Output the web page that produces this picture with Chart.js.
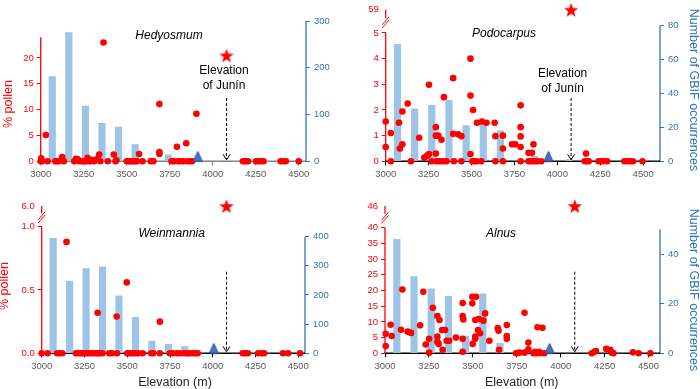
<!DOCTYPE html>
<html lang="en">
<head>
<meta charset="UTF-8">
<title>Pollen and GBIF occurrences by elevation</title>
<script src="https://cdn.jsdelivr.net/npm/chart.js@4"></script>
<style>
  body { margin: 0; background: #fff; }
  #wrap { position: relative; width: 700px; height: 389px; overflow: hidden; }
  .panel { position: absolute; }
</style>
</head>
<body>
<div id="wrap">
  <div class="panel" style="left:0;top:0"><canvas id="hedy" width="350" height="190"></canvas></div>
  <div class="panel" style="left:350px;top:0"><canvas id="podo" width="350" height="190"></canvas></div>
  <div class="panel" style="left:0;top:190px"><canvas id="wein" width="350" height="199"></canvas></div>
  <div class="panel" style="left:350px;top:190px"><canvas id="alnus" width="350" height="199"></canvas></div>
</div>

<script>
// ---- data ----
const elevTicks = [3000, 3250, 3500, 3750, 4000, 4250, 4500];
const gbifBins = ['3000', '3100', '3200', '3300', '3400', '3500', '3600', '3700',
                  '3800', '3900', '4000', '4100', '4200', '4300', '4400', '4500'];
const juninElevation = 4080;

// GBIF occurrences per 100 m bin
const hedyGbif  = [181, 275, 118, 81, 73, 36, 7, 14, 0, 0, 0, 0, 0, 0, 0, 0];
const podoGbif  = [69, 31, 33, 36, 21, 22, 18, 0, 3, 0, 1, 0, 0, 0, 0, 0];
const weinGbif  = [394, 248, 291, 297, 197, 123, 42, 31, 23, 0, 0, 0, 0, 0, 0, 0];
const alnusGbif = [46, 31, 26, 23, 7, 24, 4, 1, 0, 0, 0, 0, 0, 0, 0, 0];

// upper limit marker (triangle) and Junin pollen value (star)
const limitElev = [3913, 3948, 4006, 3937];
const juninPollen = [20.5, 59, 6.0, 46];

// % pollen in surface samples [elevation, %]
const hedyPollen = [[3000,0],[3003,0.6],[3008,0],[3030,5.1],[3040,0],[3085,0],[3095,0],[3105,0],[3125,0.8],
  [3135,0],[3195,0],[3205,0.5],[3215,0.4],[3225,0],[3240,0],[3255,0],[3265,0],[3272,0.7],[3282,0],[3292,0],
  [3300,0.3],[3312,0],[3330,0.5],[3340,1.3],[3346,0],[3365,23],[3390,0],[3425,1.3],[3435,0],[3440,0.2],
  [3500,0],[3510,0],[3520,0],[3530,0],[3540,0],[3550,0],[3560,0],[3572,1.4],[3592,0],[3640,0],[3655,0],
  [3690,11.1],[3690,1.8],[3690,1.4],[3760,0],[3775,0],[3792,2.8],[3800,0],[3815,0],[3830,0],[3846,3.5],
  [3855,0],[3868,0],[3880,0],[3905,9.2],[4175,0],[4185,0],[4195,0],[4205,0],[4252,0],[4265,0],[4280,0],
  [4295,0],[4395,0],[4410,0],[4425,0],[4500,0]];

const podoPollen = [[3000,1.55],[3000,0.56],[3030,1.1],[3030,0],[3077,1.5],[3083,0.5],[3097,0.66],[3097,1.94],
  [3128,2.25],[3147,0],[3195,0.92],[3225,0.15],[3242,0.22],[3252,2.98],[3252,0.28],[3267,0],[3292,1.33],
  [3292,1.0],[3292,0.3],[3306,1.0],[3325,0.84],[3296,0],[3310,0],[3325,0],[3340,0],[3354,0],[3339,2.5],
  [3393,3.24],[3393,1.07],[3397,0],[3422,1.05],[3441,0.98],[3441,0],[3494,4.0],[3494,2.56],[3494,0.28],
  [3509,2.0],[3505,0],[3518,0],[3530,0],[3557,0],[3532,1.5],[3561,1.55],[3587,1.5],[3635,1.5],[3639,0.98],
  [3639,0],[3683,1.0],[3683,0.5],[3683,0],[3736,0.66],[3755,0.66],[3786,2.18],[3786,1.33],[3786,0.97],
  [3786,0.56],[3786,0],[3832,0.33],[3852,0.33],[3861,0.66],[3832,0],[3845,0],[3860,0],[3872,0],[3885,0],
  [3906,0],[4167,0.3],[4160,0],[4172,0],[4183,0],[4240,0],[4255,0],[4270,0],[4290,0],[4390,0],[4405,0],
  [4425,0],[4440,0],[4496,0]];

const weinPollen = [[3145,0.88],[3327,0.32],[3438,0.29],[3497,0.56],[3691,0.25],
  [3000,0],[3035,0],[3090,0],[3105,0],[3120,0],[3200,0],[3215,0],[3228,0],[3240,0],[3252,0],[3262,0],
  [3275,0],[3290,0],[3305,0],[3318,0],[3330,0],[3342,0],[3355,0],[3395,0],[3410,0],[3440,0],[3500,0],
  [3512,0],[3525,0],[3537,0],[3550,0],[3565,0],[3590,0],[3640,0],[3652,0],[3690,0],[3748,0],[3765,0],
  [3790,0],[3805,0],[3830,0],[3845,0],[3858,0],[3870,0],[3885,0],[3898,0],[3912,0],[4175,0],[4190,0],
  [4205,0],[4265,0],[4285,0],[4300,0],[4410,0],[4440,0],[4510,0]];

const alnusPollen = [[3004,6.2],[3004,2.3],[3032,9.1],[3038,5.5],[3091,7.5],[3099,20.3],[3129,6.9],[3148,6.5],
  [3200,8.9],[3218,19.6],[3232,2.8],[3251,4.6],[3251,0.2],[3272,14.5],[3298,11.9],[3310,10.6],[3298,5.3],
  [3298,3.7],[3305,3.0],[3325,7.4],[3328,1.1],[3342,7.4],[3351,4.0],[3365,4.0],[3404,5.0],[3442,16.0],
  [3442,11.9],[3442,4.6],[3442,0.5],[3446,10.8],[3497,18.0],[3497,15.9],[3518,18.0],[3499,3.0],[3514,5.3],
  [3514,4.6],[3514,10.6],[3533,10.9],[3529,7.4],[3541,6.4],[3560,10.4],[3570,12.7],[3594,4.0],[3642,8.0],
  [3646,7.2],[3649,1.1],[3693,9.0],[3693,5.5],[3693,4.6],[3746,0],[3765,0.2],[3794,12.9],[3794,0.2],
  [3816,3.4],[3816,1.3],[3845,0],[3854,0.5],[3862,0],[3868,8.3],[3877,0.5],[3896,8.1],[3887,0],[3907,0],
  [4177,0],[4192,0.5],[4200,0.7],[4259,1.4],[4282,1.1],[4291,0.2],[4300,0],[4411,0.3],[4443,0],[4510,0]];

// ---- style ----
const RED = '#ff0000';
const BLUE = '#2e75b6';
const BAR = '#9dc3e6';
const GREY = '#595959';
const FONT = '"Liberation Sans", Arial, sans-serif';

function starImage() {
  const c = document.createElement('canvas');
  c.width = 18; c.height = 18;
  const g = c.getContext('2d');
  g.fillStyle = RED;
  g.beginPath();
  for (let i = 0; i < 10; i++) {
    const r = i % 2 ? 3.1 : 7.6;
    const a = -Math.PI / 2 + i * Math.PI / 5;
    g.lineTo(9 + r * Math.cos(a), 9.8 + r * Math.sin(a));
  }
  g.closePath();
  g.fill();
  return c;
}

// drawn in the upper half so the base sits on the data point
function triangleImage() {
  const c = document.createElement('canvas');
  c.width = 11; c.height = 22;
  const g = c.getContext('2d');
  g.beginPath();
  g.moveTo(5.5, 1); g.lineTo(10, 11); g.lineTo(1, 11); g.closePath();
  g.fillStyle = '#4472c4'; g.fill();
  g.strokeStyle = '#2f528f'; g.lineWidth = 1; g.stroke();
  return c;
}

const starImg = starImage();
const triImg = triangleImage();

function line(ctx, x1, y1, x2, y2) {
  ctx.beginPath(); ctx.moveTo(x1, y1); ctx.lineTo(x2, y2); ctx.stroke();
}

// axis lines, axis break, arrow and labels
const deco = {
  id: 'deco',
  beforeDatasetsDraw(chart, args, o) {
    const { ctx, chartArea: a, scales } = chart;
    const yL = scales.yL, yR = scales.yR;
    ctx.save();
    ctx.lineWidth = 1.3;
    ctx.strokeStyle = RED;
    const yTop = yL.getPixelForValue(o.leftTop);
    line(ctx, a.left, yL.getPixelForValue(0), a.left, yTop);
    if (o.breakAt != null) {
      const yb = yL.getPixelForValue(o.breakAt);
      const mid = (yb + yTop) / 2 + 1;
      line(ctx, a.left, yb, a.left, mid - 4);
      ctx.lineWidth = 1;
      for (const d of [-1.6, 1.6]) line(ctx, a.left - 3.5, mid + 4 + d, a.left + 3.5, mid - 4 + d);
    }
    ctx.lineWidth = 1.3;
    ctx.strokeStyle = BLUE;
    line(ctx, a.right, yR.getPixelForValue(0), a.right, yR.getPixelForValue(o.rightTop));
    ctx.strokeStyle = o.xColor;
    ctx.lineWidth = 1.5;
    line(ctx, a.left, a.bottom, a.right, a.bottom);
    ctx.restore();
  },
  afterDatasetsDraw(chart, args, o) {
    const { ctx, chartArea: a, scales } = chart;
    const ax = scales.x.getPixelForValue(juninElevation);
    ctx.save();
    // dashed arrow to Junin elevation
    ctx.strokeStyle = '#000';
    ctx.lineWidth = 1;
    ctx.setLineDash([3, 2]);
    line(ctx, ax, o.arrowTop, ax, a.bottom - 2);
    ctx.setLineDash([]);
    ctx.beginPath();
    ctx.moveTo(ax - 3.5, a.bottom - 7); ctx.lineTo(ax, a.bottom - 1.5); ctx.lineTo(ax + 3.5, a.bottom - 7);
    ctx.stroke();

    ctx.textAlign = 'center';
    ctx.textBaseline = 'middle';
    ctx.fillStyle = '#000';
    ctx.font = 'italic 12px ' + FONT;
    ctx.fillText(o.title, o.titleX, o.titleY);

    ctx.font = '12px ' + FONT;
    if (o.juninText) {
      ctx.fillText('Elevation', ax + o.juninDx, o.juninText[0]);
      ctx.fillText('of Junín', ax + o.juninDx, o.juninText[1]);
    }
    ctx.font = '12.5px ' + FONT;
    if (o.xTitle) {
      ctx.fillStyle = '#262626';
      ctx.fillText('Elevation (m)', o.xTitle[0], o.xTitle[1]);
    }
    if (o.leftTitle) {
      ctx.save();
      ctx.translate(o.leftTitle[0], o.leftTitle[1]);
      ctx.rotate(-Math.PI / 2);
      ctx.fillStyle = RED;
      ctx.fillText('% pollen', 0, 0);
      ctx.restore();
    }
    if (o.rightTitle) {
      ctx.save();
      ctx.translate(o.rightTitle[0], o.rightTitle[1]);
      ctx.rotate(Math.PI / 2);
      ctx.fillStyle = BLUE;
      ctx.fillText('Number of GBIF occurrences', 0, 0);
      ctx.restore();
    }
    ctx.restore();
  }
};

function makePanel(id, p) {
  const canvas = document.getElementById(id);
  const W = canvas.width, H = canvas.height;
  const starY = p.breakAt != null ? p.breakAt : p.star;
  new Chart(canvas, {
    type: 'bar',
    data: {
      labels: gbifBins,
      datasets: [
        { type: 'scatter', data: [{ x: juninElevation, y: starY }], pointStyle: starImg,
          xAxisID: 'x', yAxisID: 'yL', clip: false },
        { type: 'scatter', data: [{ x: p.limit, y: 0 }], pointStyle: triImg,
          xAxisID: 'x', yAxisID: 'yL', clip: false },
        { type: 'scatter', data: p.pollen.map(([x, y]) => ({ x, y })),
          backgroundColor: RED, borderWidth: 0, pointRadius: 3.3,
          xAxisID: 'x', yAxisID: 'yL', clip: false },
        { type: 'bar', data: p.gbif, backgroundColor: BAR, barThickness: 6.5,
          xAxisID: 'xb', yAxisID: 'yR' }
      ]
    },
    options: {
      responsive: false,
      animation: false,
      events: [],
      layout: { padding: { top: p.top, left: 0, right: 0, bottom: 0 } },
      plugins: {
        legend: { display: false },
        tooltip: { enabled: false },
        deco: p.deco
      },
      scales: {
        x: {
          type: 'linear', position: 'bottom', min: 3000, max: p.xMax, offset: false,
          afterBuildTicks: s => { s.ticks = elevTicks.map(v => ({ value: v })); },
          afterFit: s => { s.height = H - p.bottom; },
          ticks: { color: GREY, font: { family: FONT, size: 9.5 }, padding: 3,
                   maxRotation: 0, autoSkip: false, callback: v => String(v) },
          grid: { drawOnChartArea: false, offset: false, tickLength: 4, color: p.deco.xColor },
          border: { display: false }
        },
        xb: { type: 'category', display: false, offset: true },
        yL: {
          position: 'left', min: 0, max: p.leftMax,
          afterBuildTicks: s => {
            const t = p.leftTicks.map(v => ({ value: v }));
            if (p.breakAt != null) t.push({ value: p.breakAt });
            s.ticks = t;
          },
          afterFit: s => { s.width = p.left; },
          ticks: { color: RED, font: { family: FONT, size: 9.5 }, padding: 3, autoSkip: false,
                   callback: v => v === p.breakAt ? p.breakLabel : (p.decimals ? v.toFixed(p.decimals) : String(v)) },
          grid: { drawOnChartArea: false, tickLength: 4,
                  color: c => (c.tick && c.tick.value > p.deco.leftTop) ? 'rgba(0,0,0,0)' : RED },
          border: { display: false }
        },
        yR: {
          position: 'right', min: 0, max: p.rightMax,
          afterBuildTicks: s => { s.ticks = p.rightTicks.map(v => ({ value: v })); },
          afterFit: s => { s.width = W - p.right; },
          ticks: { color: BLUE, font: { family: FONT, size: 9.5 }, padding: 4, autoSkip: false,
                   callback: v => String(v) },
          grid: { drawOnChartArea: false, tickLength: 4, color: BLUE },
          border: { display: false }
        }
      }
    },
    plugins: [deco]
  });
}

makePanel('hedy', {
  gbif: hedyGbif, pollen: hedyPollen, limit: limitElev[0], star: juninPollen[0],
  left: 40.7, right: 306, top: 21, bottom: 161.3, xMax: 4542,
  leftMax: 27.16, leftTicks: [0, 5, 10, 15, 20],
  rightMax: 300, rightTicks: [0, 100, 200, 300],
  deco: { title: 'Hedyosmum', titleX: 169, titleY: 36, leftTop: 24, rightTop: 300, xColor: '#7f7f7f',
          arrowTop: 98, juninText: [71, 86], juninDx: -2.5, leftTitle: [8.5, 104] }
});

makePanel('podo', {
  gbif: podoGbif, pollen: podoPollen, limit: limitElev[1], star: juninPollen[1],
  left: 35.7, right: 310, top: 7, bottom: 161.3, xMax: 4598,
  leftMax: 5.907, leftTicks: [0, 1, 2, 3, 4, 5], breakAt: 5.907, breakLabel: '59',
  rightMax: 89.4, rightTicks: [0, 20, 40, 60, 80],
  deco: { title: 'Podocarpus', titleX: 154, titleY: 34, leftTop: 5, breakAt: 5.907, rightTop: 80,
          xColor: '#000', arrowTop: 98, juninText: [74, 89], juninDx: -8.5, rightTitle: [343, 90] }
});

makePanel('wein', {
  gbif: weinGbif, pollen: weinPollen, limit: limitElev[2], star: juninPollen[2],
  left: 41.7, right: 305, top: 16, bottom: 163.3, xMax: 4539,
  leftMax: 1.1635, leftTicks: [0, 0.5, 1.0], breakAt: 1.1635, breakLabel: '6.0', decimals: 1,
  rightMax: 505.3, rightTicks: [0, 100, 200, 300, 400],
  deco: { title: 'Weinmannia', titleX: 171.7, titleY: 43.3, leftTop: 1.0, breakAt: 1.1635, rightTop: 400,
          xColor: '#000', arrowTop: 81.7, leftTitle: [4.5, 96], xTitle: [175, 192.5] }
});

makePanel('alnus', {
  gbif: alnusGbif, pollen: alnusPollen, limit: limitElev[3], star: juninPollen[3],
  left: 35, right: 310, top: 16, bottom: 163.3, xMax: 4565,
  leftMax: 46.9, leftTicks: [0, 5, 10, 15, 20, 25, 30, 35, 40], breakAt: 46.9, breakLabel: '46',
  rightMax: 59.5, rightTicks: [0, 20, 40],
  deco: { title: 'Alnus', titleX: 151, titleY: 43.3, leftTop: 40, breakAt: 46.9, rightTop: 50,
          xColor: '#000', arrowTop: 81.7, rightTitle: [343, 100], xTitle: [171.7, 192.5] }
});
</script>
</body>
</html>
